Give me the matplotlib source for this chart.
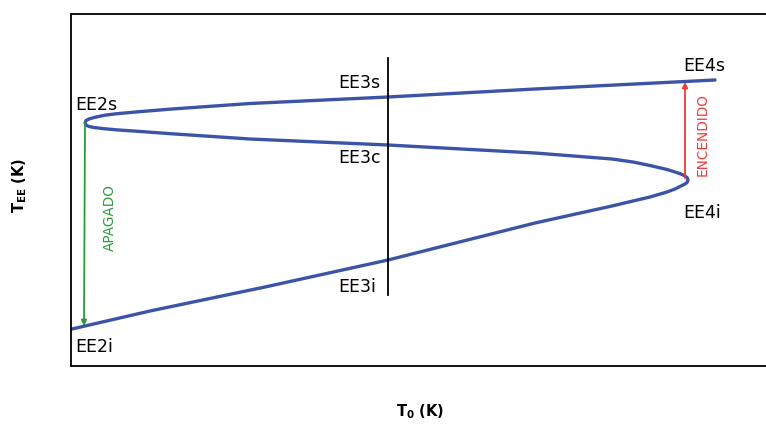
import matplotlib
matplotlib.use('Agg')
import matplotlib.pyplot as plt

# S-shaped steady-state curve, T0 vs TEE (arbitrary units)
# lower branch -> fold EE4i -> middle branch -> fold EE2s -> upper branch
curve_t0 = [1, 79, 194, 317, 464, 541, 562, 579, 596, 604, 610, 614, 616, 617,
            616, 614, 610, 604, 596, 579, 562, 541, 464, 317, 179, 101, 68, 45, 34, 29, 23, 18, 15,
            14, 15, 18, 23, 29, 34, 45, 68, 101, 179, 317, 464, 644]
curve_tee = [37, 55, 79, 106, 143, 160, 165, 169, 174, 177, 180, 182, 183.5, 186,
             188.5, 190, 192, 194, 196.5, 200.5, 204, 207, 213, 221, 227, 232.2, 234.6, 236.2, 237.2, 237.8, 238.5, 239.5, 241,
             243, 245.5, 247, 248.5, 249.8, 250.8, 252.2, 254.3, 257, 262.5, 269, 277, 286]

# vertical cut at EE3
cut_t0 = 317
cut_tee = [71, 308]

# transitions (start, end)
apagado_t0 = [14, 13]
apagado_tee = [244, 40]
encendido_t0 = [614, 614]
encendido_tee = [188, 284]

# state labels: text, x, y, horizontal alignment
labels = ['EE2s', 'EE2i', 'EE3s', 'EE3c', 'EE3i', 'EE4s', 'EE4i']
label_x = [4, 4, 309, 289, 286, 612, 612]
label_y = [261, 19, 283, 208, 79, 300, 153]
label_ha = ['left', 'left', 'right', 'center', 'center', 'left', 'left']

blue = '#3b54a6'
green = '#2a9a3a'
red = '#f03a3a'

fig = plt.figure(figsize=(7.66, 4.26), dpi=100)
ax = fig.add_axes([71 / 766, 1 - 366 / 426, 1 - 71 / 766, 352 / 426])

ax.plot(curve_t0, curve_tee, color=blue, lw=2.4, solid_capstyle='round', solid_joinstyle='round')
ax.plot([cut_t0, cut_t0], cut_tee, color='black', lw=1.3)

ax.annotate('', xy=(apagado_t0[1], apagado_tee[1]), xytext=(apagado_t0[0], apagado_tee[0]),
            arrowprops=dict(arrowstyle='-|>', color=green, lw=1.3, mutation_scale=8,
                            shrinkA=0, shrinkB=0))
ax.annotate('', xy=(encendido_t0[1], encendido_tee[1]), xytext=(encendido_t0[0], encendido_tee[0]),
            arrowprops=dict(arrowstyle='-|>', color=red, lw=1.3, mutation_scale=8,
                            shrinkA=0, shrinkB=0))

ax.text(39, 148, 'APAGADO', color=green, rotation=90, ha='center', va='center', fontsize=9.8)
ax.text(632, 231, 'ENCENDIDO', color=red, rotation=90, ha='center', va='center', fontsize=9.8)

for name, x, y, ha in zip(labels, label_x, label_y, label_ha):
    ax.text(x, y, name, ha=ha, va='center', fontsize=12.5)

ax.set_xlim(0, 695)
ax.set_ylim(0, 352)
ax.set_xticks([])
ax.set_yticks([])
ax.spines['right'].set_visible(False)
for s in ['left', 'top', 'bottom']:
    ax.spines[s].set_linewidth(1.3)

fig.text(420 / 766, 1 - 412 / 426, r'$\mathbf{T_0}$ (K)', ha='center', va='center',
         fontsize=10.5, fontweight='bold')
fig.text(20 / 766, 1 - 185 / 426, r'$\mathbf{T_{EE}}$ (K)', ha='center', va='center',
         fontsize=10.5, fontweight='bold', rotation=90)

fig.savefig('out.png', dpi=100)
